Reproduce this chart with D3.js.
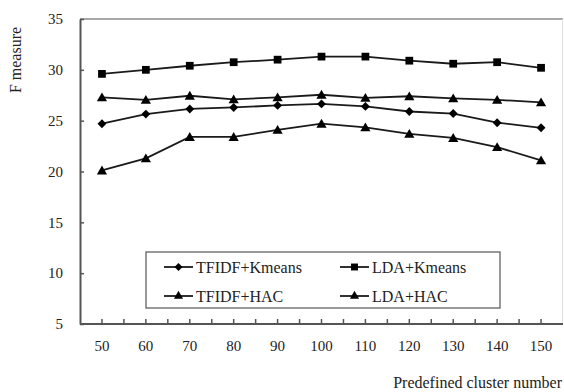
<!DOCTYPE html>
<html>
<head>
<meta charset="utf-8">
<script src="https://cdn.jsdelivr.net/npm/d3@7"></script>
<style>
  body { margin: 0; background: #fff; }
</style>
</head>
<body>
<svg id="chart" width="564" height="392"></svg>
<script>
// Data
var clusterNumbers = [50, 60, 70, 80, 90, 100, 110, 120, 130, 140, 150];
var tfidfKmeans = [24.7, 25.65, 26.15, 26.3, 26.5, 26.65, 26.4, 25.9, 25.7, 24.8, 24.3];
var ldaKmeans = [29.6, 30.0, 30.4, 30.75, 31.0, 31.3, 31.3, 30.9, 30.6, 30.75, 30.2];
var tfidfHac = [27.3, 27.05, 27.45, 27.1, 27.3, 27.55, 27.25, 27.4, 27.2, 27.05, 26.8];
var ldaHac = [20.1, 21.3, 23.4, 23.4, 24.1, 24.7, 24.35, 23.7, 23.3, 22.4, 21.1];
var yTicks = [5, 10, 15, 20, 25, 30, 35];

var serifFont = "'Liberation Serif', 'Times New Roman', Times, 'DejaVu Serif', serif";

var seriesList = [
  { name: "TFIDF+Kmeans", values: tfidfKmeans, symbol: d3.symbolDiamond2, size: 50 },
  { name: "LDA+Kmeans", values: ldaKmeans, symbol: d3.symbolSquare, size: 60 },
  { name: "TFIDF+HAC", values: tfidfHac, symbol: d3.symbolTriangle, size: 45 },
  { name: "LDA+HAC", values: ldaHac, symbol: d3.symbolTriangle, size: 45 }
];

var margin = { left: 80, top: 19, right: 1, bottom: 68 };
var width = 564 - margin.left - margin.right;
var height = 392 - margin.top - margin.bottom;

var svg = d3.select("#chart").style("font-family", serifFont);
var g = svg.append("g").attr("transform", `translate(${margin.left},${margin.top})`);

var xScale = d3.scalePoint()
  .domain(clusterNumbers)
  .range([0, width])
  .padding(0.5);

var yScale = d3.scaleLinear()
  .domain([5, 35])
  .range([height, 0]);

// frame (top and right in light gray)
g.append("line").attr("x1", 0).attr("x2", width).attr("y1", 0).attr("y2", 0)
  .attr("stroke", "#a8a8a8").attr("stroke-width", 2);
g.append("line").attr("x1", width - 0.5).attr("x2", width - 0.5).attr("y1", 0).attr("y2", height)
  .attr("stroke", "#e0e0e0").attr("stroke-width", 1);

// y axis
var yAxis = g.append("g")
  .call(d3.axisLeft(yScale).tickValues(yTicks).tickSizeInner(-4).tickSizeOuter(0).tickPadding(17));
yAxis.attr("font-family", null).attr("font-size", null);
yAxis.select(".domain").attr("stroke", "#555").attr("stroke-width", 2);
yAxis.selectAll(".tick line").attr("stroke", "#555").attr("stroke-width", 1.5);
yAxis.selectAll(".tick text")
  .style("font-family", serifFont)
  .style("font-size", "15px")
  .attr("fill", "#222");

// x axis, ticks at every half category
var bandStep = xScale.step();
var xTickPos = d3.range(0, clusterNumbers.length * 2 + 1).map(function (i) { return i * bandStep / 2; });
var xAxis = g.append("g").attr("transform", `translate(0,${height})`);
xAxis.append("line").attr("x1", 0).attr("x2", width).attr("y1", 0).attr("y2", 0)
  .attr("stroke", "#555").attr("stroke-width", 2);
xAxis.selectAll(".xtick")
  .data(xTickPos.slice(1, -1))
  .enter()
  .append("line")
  .attr("x1", function (d) { return d; })
  .attr("x2", function (d) { return d; })
  .attr("y1", 0)
  .attr("y2", -5)
  .attr("stroke", "#555")
  .attr("stroke-width", 1.5);
xAxis.selectAll(".xlabel")
  .data(clusterNumbers)
  .enter()
  .append("text")
  .attr("x", function (d) { return xScale(d); })
  .attr("y", 27)
  .attr("fill", "#222")
  .style("text-anchor", "middle")
  .style("font-family", serifFont)
  .style("font-size", "15px")
  .text(function (d) { return d; });

// series lines and markers
var line = d3.line()
  .x(function (d, i) { return xScale(clusterNumbers[i]); })
  .y(function (d) { return yScale(d); });

seriesList.forEach(function (s) {
  g.append("path")
    .attr("fill", "none")
    .attr("stroke", "#1a1a1a")
    .attr("stroke-width", 1.8)
    .attr("d", line(s.values));

  g.selectAll(null)
    .data(s.values)
    .enter()
    .append("path")
    .attr("transform", function (d, i) { return `translate(${xScale(clusterNumbers[i])},${yScale(d) + (s.symbol === d3.symbolTriangle ? 1 : 0)})`; })
    .attr("d", d3.symbol().type(s.symbol).size(s.size))
    .attr("fill", "#000");
});

// legend
var legend = g.append("g").attr("transform", "translate(66,233)");
legend.append("rect")
  .attr("width", 354).attr("height", 56)
  .attr("fill", "#fff").attr("stroke", "#555").attr("stroke-width", 1.2);

seriesList.forEach(function (s, i) {
  var lx = i % 2 === 0 ? 18 : 194;
  var ly = i < 2 ? 15 : 44;
  var item = legend.append("g").attr("transform", `translate(${lx},${ly})`);
  item.append("line").attr("x1", 0).attr("x2", 29).attr("y1", 0).attr("y2", 0)
    .attr("stroke", "#1a1a1a").attr("stroke-width", 1.8);
  item.append("path")
    .attr("transform", "translate(14.5,0)")
    .attr("d", d3.symbol().type(s.symbol).size(s.size * 0.8))
    .attr("fill", "#000");
  item.append("text")
    .attr("x", 32)
    .attr("y", 0)
    .attr("dy", "0.35em")
    .attr("fill", "#222")
    .style("font-family", serifFont)
    .style("font-size", "16px")
    .text(s.name);
});

// axis titles
svg.append("text")
  .attr("transform", "translate(21,60) rotate(-90)")
  .attr("fill", "#222")
  .style("text-anchor", "middle")
  .style("font-family", serifFont)
  .style("font-size", "16px")
  .text("F measure");

svg.append("text")
  .attr("x", 562)
  .attr("y", 388)
  .attr("fill", "#222")
  .style("text-anchor", "end")
  .style("font-family", serifFont)
  .style("font-size", "16px")
  .text("Predefined cluster number");
</script>
</body>
</html>
